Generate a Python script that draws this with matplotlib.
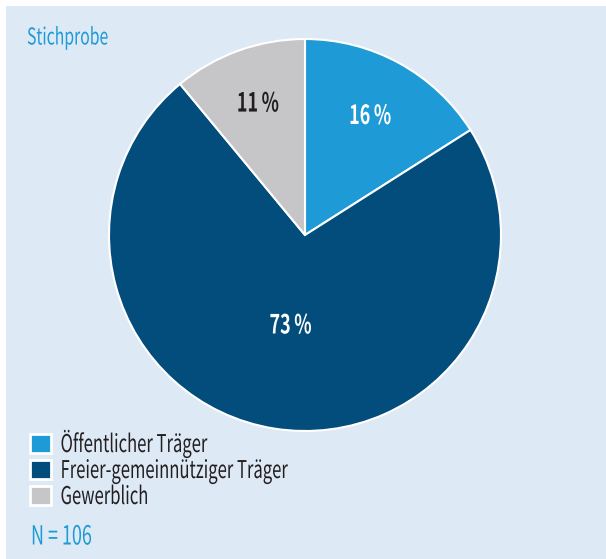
# Tortendiagramm: Trägerschaft der Stichprobe

import matplotlib.pyplot as plt
import numpy as np
from matplotlib.patches import Rectangle
from matplotlib.patheffects import AbstractPathEffect
from matplotlib.transforms import Affine2D

labels = ['Öffentlicher Träger', 'Freier-gemeinnütziger Träger', 'Gewerblich']
anteile = [16, 73, 11]  # Prozent
farben = ['#1e9ad6', '#034d7c', '#c6c6c8']
textfarben = ['white', 'white', '#231f20']
label_abstand = [0.69, 0.47, 0.71]  # relativer Abstand der Prozentwerte vom Mittelpunkt

titel = 'Stichprobe'
fussnote = 'N = 106'

plt.rcParams['font.family'] = ['Noto Sans CJK JP', 'DejaVu Sans']

SCHMAL = 0.68  # horizontale Stauchung -> Condensed-Schnitt nachbilden


class Schmal(AbstractPathEffect):
    """Staucht Text horizontal um den Ankerpunkt x0 (Pixel)."""

    def __init__(self, x0, sx):
        super().__init__()
        self.x0 = x0
        self.sx = sx

    def draw_path(self, renderer, gc, tpath, affine, rgbFace=None):
        t = affine + Affine2D().translate(-self.x0, 0).scale(self.sx, 1).translate(self.x0, 0)
        renderer.draw_path(gc, tpath, t, rgbFace)


W, H = 606, 559
fig = plt.figure(figsize=(W / 100, H / 100), dpi=100)
fig.patch.set_facecolor('white')
ax = fig.add_axes([0, 0, 1, 1])

# hellblauer Hintergrundkasten
ax.add_patch(Rectangle((6, 0), W - 6, H - 6, facecolor='#dde9f5', edgecolor='none', zorder=0))

cx, cy, r = 305, H - 235, 196
wedges, _ = ax.pie(anteile, colors=farben, startangle=90, counterclock=False,
                   center=(cx, cy), radius=r, frame=True,
                   wedgeprops=dict(edgecolor='white', linewidth=1.5))
ax.set_xlim(0, W)
ax.set_ylim(0, H)
ax.set_aspect('equal')
ax.axis('off')

texte = []

# Prozentwerte in die Segmente schreiben
for w, p, tf, d in zip(wedges, anteile, textfarben, label_abstand):
    mitte = np.deg2rad((w.theta1 + w.theta2) / 2)
    t = ax.text(cx + d * r * np.cos(mitte), cy + d * r * np.sin(mitte), f'{p}\u2009%',
                ha='center', va='center', color=tf, fontsize=19, fontweight='bold')
    texte.append(t)

texte.append(ax.text(27, H - 38, titel, color='#1e9ad6', fontsize=16.7, ha='left', va='center'))
texte.append(ax.text(31, H - 537, fussnote, color='#1e9ad6', fontsize=19, ha='left', va='center'))

leg = ax.legend(wedges, labels, loc='upper left', bbox_to_anchor=(30 / W, 1 - 429 / H),
                bbox_transform=fig.transFigure, frameon=False, borderaxespad=0, borderpad=0,
                handlelength=0.85, handleheight=0.85, handletextpad=0.4,
                labelspacing=0.0, fontsize=17.6, labelcolor='#231f20')
for h in leg.legend_handles:
    h.set_linewidth(2)
texte += leg.get_texts()

# Schrift stauchen, Anker bleibt an Ort und Stelle
fig.canvas.draw()
for t in texte:
    bb = t.get_window_extent()
    x0 = bb.x0 if t.get_ha() == 'left' else (bb.x0 + bb.x1) / 2
    t.set_path_effects([Schmal(x0, SCHMAL)])

fig.savefig('out.png', dpi=100)
